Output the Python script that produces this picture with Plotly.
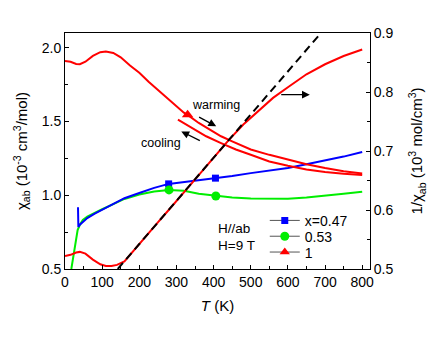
import plotly.graph_objects as go

# ---- data ----
# x = 1, warming branch chi (10^-3 cm^3/mol)
T_red_w = [0, 15, 30, 40, 55, 75, 95, 110, 130, 150, 175, 200, 225, 250, 275, 300, 320, 330,
           360, 400, 420, 450, 500, 550, 600, 650, 700, 750, 800]
chi_red_w = [1.91, 1.905, 1.89, 1.888, 1.905, 1.945, 1.97, 1.975, 1.965, 1.935, 1.88, 1.83, 1.77,
             1.715, 1.66, 1.605, 1.56, 1.545, 1.49, 1.43, 1.40, 1.365, 1.31, 1.274, 1.24, 1.21,
             1.185, 1.163, 1.148]
# x = 1, cooling branch chi
T_red_c = [304, 340, 380, 420, 460, 500, 550, 600, 650, 700, 750, 800]
chi_red_c = [1.512, 1.46, 1.40, 1.354, 1.31, 1.275, 1.229, 1.20, 1.175, 1.158, 1.145, 1.138]
# x = 1, inverse chi (10^3 mol/cm^3)
T_inv = [0, 15, 30, 40, 55, 75, 95, 110, 125, 140, 160, 180, 200, 225, 250, 275, 300, 330,
         360, 400, 440, 480, 520, 560, 600, 650, 700, 750, 800]
inv_chi = [0.522, 0.524, 0.528, 0.529, 0.526, 0.516, 0.508, 0.505, 0.505, 0.507, 0.513, 0.528,
           0.542, 0.561, 0.579, 0.597, 0.616, 0.637, 0.659, 0.689, 0.718, 0.745, 0.768, 0.79,
           0.808, 0.83, 0.847, 0.861, 0.872]
# Curie-Weiss fit line (inverse chi)
T_fit = [142, 689]
inv_fit = [0.5, 0.9]
# x = 0.47
T_blue = [35, 36, 40, 50, 60, 80, 100, 130, 160, 200, 240, 279, 320, 360, 405, 450, 500, 550,
          600, 650, 700, 750, 800]
chi_blue = [0.918, 0.785, 0.80, 0.825, 0.845, 0.875, 0.90, 0.94, 0.98, 1.015, 1.05, 1.077, 1.09,
            1.10, 1.116, 1.13, 1.15, 1.165, 1.185, 1.21, 1.235, 1.262, 1.293]
# x = 0.53
T_green = [17, 22, 26, 30, 34, 40, 48, 60, 80, 100, 130, 160, 200, 240, 280, 320, 360, 406, 450,
           500, 550, 600, 650, 700, 750, 800]
chi_green = [0.5, 0.58, 0.65, 0.71, 0.764, 0.80, 0.832, 0.855, 0.882, 0.905, 0.94, 0.975, 1.005,
             1.025, 1.036, 1.03, 1.01, 0.995, 0.985, 0.978, 0.975, 0.977, 0.985, 0.995, 1.01, 1.024]
# markers
T_blue_m = [279, 405]
chi_blue_m = [1.077, 1.116]
T_green_m = [280, 406]
chi_green_m = [1.036, 0.995]
T_red_m = [330]
chi_red_m = [1.545]

legend_names = ["x=0.47", "0.53", "1"]

RED, BLUE, GREEN = "#ff0000", "#0000ff", "#00ee00"
FONT = "Liberation Sans, Arial, sans-serif"

fig = go.Figure()
lw = 2
fig.add_trace(go.Scatter(x=T_green, y=chi_green, mode="lines",
                         line=dict(color=GREEN, width=lw), showlegend=False))
fig.add_trace(go.Scatter(x=T_blue, y=chi_blue, mode="lines",
                         line=dict(color=BLUE, width=lw), showlegend=False))
fig.add_trace(go.Scatter(x=T_red_w, y=chi_red_w, mode="lines",
                         line=dict(color=RED, width=lw), showlegend=False))
fig.add_trace(go.Scatter(x=T_red_c, y=chi_red_c, mode="lines",
                         line=dict(color=RED, width=lw), showlegend=False))
fig.add_trace(go.Scatter(x=T_inv, y=inv_chi, mode="lines", yaxis="y2",
                         line=dict(color=RED, width=lw), showlegend=False))
fig.add_trace(go.Scatter(x=T_fit, y=inv_fit, mode="lines", yaxis="y2",
                         line=dict(color="black", width=2, dash="8px,5px"), showlegend=False))
fig.add_trace(go.Scatter(x=T_blue_m, y=chi_blue_m, mode="markers",
                         marker=dict(symbol="square", size=7, color=BLUE), showlegend=False))
fig.add_trace(go.Scatter(x=T_green_m, y=chi_green_m, mode="markers",
                         marker=dict(symbol="circle", size=9, color=GREEN), showlegend=False))
fig.add_trace(go.Scatter(x=T_red_m, y=chi_red_m, mode="markers",
                         marker=dict(symbol="triangle-up", size=10, color=RED), showlegend=False))

# legend entries: gray line with coloured symbol, one legend box per row
legend_ids = ["legend", "legend2", "legend3"]
for name, sym, col, sz, lid in zip(legend_names, ["square", "circle", "triangle-up"],
                                   [BLUE, GREEN, RED], [7, 9, 9], legend_ids):
    fig.add_trace(go.Scatter(x=[None], y=[None], mode="lines+markers", name=name, legend=lid,
                             line=dict(color="#555555", width=1),
                             marker=dict(symbol=sym, size=sz, color=col)))

annots = [
    dict(x=407, y=1.614, text="warming", showarrow=False, xanchor="center", yanchor="middle",
         font=dict(size=12.5)),
    dict(x=317, y=1.356, text="cooling", showarrow=False, xanchor="right", yanchor="middle",
         font=dict(size=12.5)),
    dict(x=406, y=0.772, text="H//ab", showarrow=False, xanchor="left", yanchor="middle",
         font=dict(size=13.5)),
    dict(x=406, y=0.656, text="H=9 T", showarrow=False, xanchor="left", yanchor="middle",
         font=dict(size=13.5)),
]
arrows = [((357, 1.535), (407, 1.467)), ((367, 1.365), (313, 1.433)),
          ((578, 1.682), (659, 1.682))]
for (tx, ty), (hx, hy) in arrows:
    annots.append(dict(x=hx, y=hy, ax=tx, ay=ty, xref="x", yref="y", axref="x", ayref="y",
                       text="", showarrow=True, arrowhead=2, arrowsize=1.2, arrowwidth=1.3,
                       arrowcolor="black"))

leg_common = dict(xanchor="left", yanchor="top", bgcolor="rgba(0,0,0,0)",
                  font=dict(size=14), itemwidth=30)

fig.update_layout(
    width=428, height=329,
    margin=dict(l=57, r=66, t=25, b=68, autoexpand=False),
    paper_bgcolor="white", plot_bgcolor="white",
    font=dict(family=FONT, size=14, color="black"),
    annotations=annots,
    legend=dict(x=0.655, y=0.272, **leg_common),
    legend2=dict(x=0.655, y=0.205, **leg_common),
    legend3=dict(x=0.655, y=0.138, **leg_common),
    xaxis=dict(range=[0, 821], showline=True, linecolor="black", linewidth=1, mirror=True,
               ticks="inside", ticklen=4, tickcolor="black", dtick=100, tick0=0,
               minor=dict(ticks="inside", ticklen=3, dtick=50, tickcolor="black"),
               showgrid=False, zeroline=False, automargin=False,
               title=dict(text="<i>T</i> (K)", font=dict(size=15), standoff=11)),
    yaxis=dict(range=[0.5, 2.1], showline=True, linecolor="black", linewidth=1,
               ticks="inside", ticklen=4, tickcolor="black", dtick=0.5, tick0=0.5,
               tickformat=".1f", automargin=False,
               minor=dict(ticks="inside", ticklen=3, dtick=0.25, tickcolor="black"),
               showgrid=False, zeroline=False,
               title=dict(text="χ<sub>ab</sub> (10<sup>-3</sup> cm<sup>3</sup>/mol)",
                          font=dict(size=15), standoff=10)),
    yaxis2=dict(range=[0.5, 0.9], overlaying="y", side="right", anchor="x",
                showline=True, linecolor="black", linewidth=1, automargin=False,
                ticks="inside", ticklen=4, tickcolor="black", dtick=0.1, tick0=0.5,
                tickformat=".1f",
                minor=dict(ticks="inside", ticklen=3, dtick=0.05, tickcolor="black"),
                showgrid=False, zeroline=False,
                title=dict(text="1/χ<sub>ab</sub> (10<sup>3</sup> mol/cm<sup>3</sup>)",
                           font=dict(size=15), standoff=19)),
)

fig.write_html("out.html")
